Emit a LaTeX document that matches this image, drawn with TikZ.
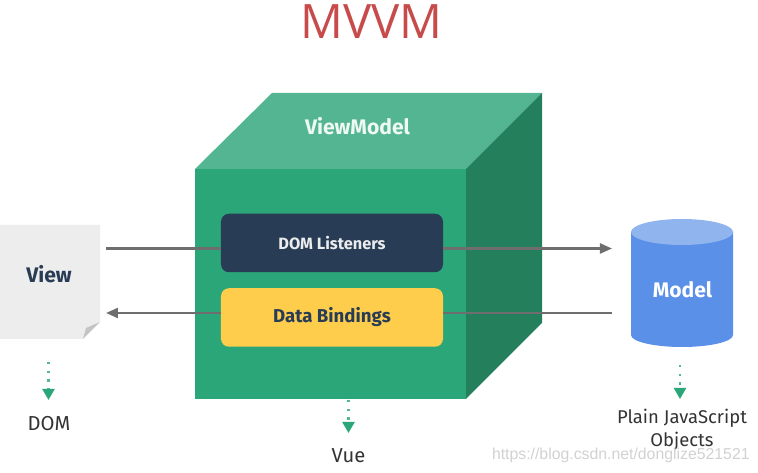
\documentclass[tikz,border=0pt]{standalone}
\usepackage{fontspec}
\usepackage{xcolor}
\setmainfont{Fira Sans}
\newfontfamily\titlefont{Open Sans}
\newfontfamily\markfont{Liberation Sans}
\usetikzlibrary{arrows.meta}
\definecolor{frontgreen}{HTML}{2AA678}
\definecolor{topgreen}{HTML}{53B592}
\definecolor{sidegreen}{HTML}{247F5D}
\definecolor{listenblue}{HTML}{293C55}
\definecolor{bindyellow}{HTML}{FDCD4B}
\definecolor{modelblue}{HTML}{5A90E8}
\definecolor{modeltop}{HTML}{8FB4EE}
\definecolor{viewgrey}{HTML}{EDEDED}
\definecolor{foldgrey}{HTML}{C4C4C4}
\definecolor{arrowgrey}{HTML}{6E6E6E}
\definecolor{titlered}{HTML}{C84B4B}
\tikzset{
  innerbox/.style={rounded corners=1.6mm, minimum width=4.44cm, minimum height=1.17cm, inner sep=0pt},
  wire/.style={draw=arrowgrey, line width=0.45mm},
  wirehead/.style={wire, -{Triangle[length=2.4mm,width=2mm]}},
  dotlink/.style={draw=frontgreen!80, line width=0.45mm, dash pattern=on 0.45mm off 1.3mm, -{Triangle[length=2.2mm,width=2.4mm,color=frontgreen,fill=frontgreen]}},
  caption/.style={text=black!80, font=\fontsize{#1}{13pt}\selectfont, inner sep=0pt, align=center},
  boldlabel/.style={font=\fontsize{#1}{#1}\selectfont\bfseries, inner sep=0pt}
}
\begin{document}
\begin{tikzpicture}[scale=0.2]
\useasboundingbox (0,0) rectangle (75.8,-47.3);
% cube
\fill [topgreen] (19.5,-16.9) -- (27.2,-9.3) -- (54.2,-9.3) -- (46.6,-16.9) -- cycle;
\fill [sidegreen] (46.6,-16.9) -- (54.2,-9.3) -- (54.2,-32.3) -- (46.6,-39.9) -- cycle;
\fill [frontgreen] (19.5,-16.9) rectangle (46.6,-39.9);
% view sheet
\fill [viewgrey] (0,-22.5) -- (10,-22.5) -- (10,-32.2) -- (8.3,-33.9) -- (0,-33.9) -- cycle;
\fill [foldgrey] (10,-32.2) -- (8.3,-33.9) -- (8.6,-32.8) -- cycle;
% model drum
\fill [modelblue] (63.1,-23.2) -- (63.1,-33.5) arc (180:360:5.1 and 1.2) -- (73.3,-23.2) -- cycle;
\fill [modeltop] (68.2,-23.2) ellipse (5.1 and 1.3);
% nodes
\node [innerbox, fill=listenblue, text=white!90!listenblue, boldlabel=9.3pt] (listeners) at (33.2,-24.3) {DOM Listeners};
\node [innerbox, fill=bindyellow, text=listenblue, boldlabel=10.6pt] (bindings) at (33.2,-31.75) {Data Bindings};
\node [text=listenblue, boldlabel=12pt] (view) at (4.9,-27.4) {View};
\node [text=white, boldlabel=12pt] (model) at (68.25,-29) {Model};
\node [text=white!90!topgreen, boldlabel=12pt] (viewmodel) at (35.75,-12.6) {ViewModel};
\node [text=titlered, font=\titlefont\fontsize{27pt}{27pt}\selectfont, inner sep=0pt] (title) at (37.15,-2.15) {MVVM};
\node [caption=11.5pt] (dom) at (4.9,-42.35) {DOM};
\node [caption=11.5pt] (vue) at (34.85,-45.6) {Vue};
\node [caption=10.5pt] (plain) at (68.2,-43) {Plain JavaScript\\Objects};
\node [text=black!18, font=\markfont\fontsize{9pt}{9pt}\selectfont, inner sep=0pt, anchor=east] (mark) at (75,-45.5) {https://blog.csdn.net/donglize521521};
% connectors
\coordinate (viewin) at (10.6,-24.85);
\coordinate (viewout) at (10.6,-31.3);
\coordinate (modelin) at (61.2,-24.85);
\coordinate (modelout) at (61.2,-31.3);
\draw [wire] (viewin) -- (viewin -| listeners.west);
\draw [wirehead] (viewin -| listeners.east) -- (modelin);
\draw [wire] (modelout) -- (modelout -| bindings.east);
\draw [wirehead] (viewout -| bindings.west) -- (viewout);
% dotted links
\coordinate (domtop) at (4.85,-36.2);
\coordinate (domend) at (4.85,-40);
\coordinate (vuetop) at (34.85,-40);
\coordinate (vueend) at (34.85,-43.3);
\coordinate (plaintop) at (68,-36.5);
\coordinate (plainend) at (68,-39.9);
\draw [dotlink] (domtop) -- (domend);
\draw [dotlink] (vuetop) -- (vueend);
\draw [dotlink] (plaintop) -- (plainend);
\end{tikzpicture}
\end{document}
